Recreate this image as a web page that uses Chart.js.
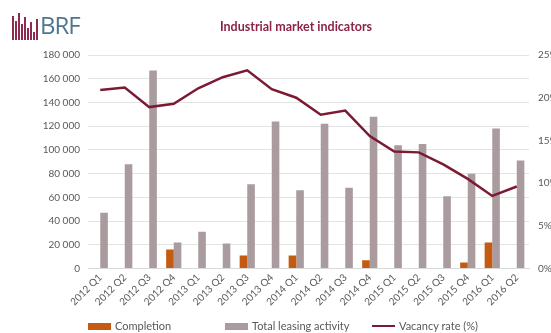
<!DOCTYPE html>
<html>
<head>
<meta charset="utf-8">
<script src="https://cdn.jsdelivr.net/npm/chart.js@4.4.1/dist/chart.umd.min.js"></script>
<style>
  html, body { margin: 0; padding: 0; background: #ffffff; overflow: hidden; }
  #wrap { position: relative; width: 551px; height: 333px; }
  #logo { position: absolute; left: 12px; top: 12px; height: 28px; width: 80px; }
  #logo .bar { position: absolute; bottom: 0; width: 2px; background: #8e2a4f; }
  #logo .txt { position: absolute; left: 28px; top: -4px; font-family: "Open Sans", sans-serif; font-size: 24px; color: #4f7791; letter-spacing: -1px; }
  .key { position: absolute; top: 319px; height: 14px; font-family: Lato, "Open Sans", sans-serif; font-size: 11px; color: #595959; line-height: 14px; white-space: nowrap; }
  .key i { display: inline-block; width: 23px; vertical-align: middle; margin-right: 4px; position: relative; top: -1px; }
</style>
</head>
<body>
<div id="wrap">
  <canvas id="myChart" width="551" height="333"></canvas>
  <div id="logo">
    <div class="bar" style="left:0px;height:24px"></div>
    <div class="bar" style="left:3px;height:19px"></div>
    <div class="bar" style="left:6px;height:27px"></div>
    <div class="bar" style="left:9px;height:16px"></div>
    <div class="bar" style="left:12px;height:23px"></div>
    <div class="bar" style="left:15px;height:12px"></div>
    <div class="bar" style="left:18px;height:18px"></div>
    <div class="bar" style="left:21px;height:8px"></div>
    <div class="bar" style="left:24px;height:21px"></div>
    <div class="txt">BRF</div>
  </div>
  <div id="legend"></div>
</div>
<script>
"use strict"

// quarters on the x axis
let quarters = [
  "2012 Q1", "2012 Q2", "2012 Q3", "2012 Q4",
  "2013 Q1", "2013 Q2", "2013 Q3", "2013 Q4",
  "2014 Q1", "2014 Q2", "2014 Q3", "2014 Q4",
  "2015 Q1", "2015 Q2", "2015 Q3", "2015 Q4",
  "2016 Q1", "2016 Q2"
];

// new completions (sqm), null where nothing was delivered
let completion = [null, null, null, 16000, null, null, 11000, null, 11000, null, null, 7000, null, null, null, 5000, 22000, null];

// total leasing activity (sqm)
let leasing = [47000, 88000, 167000, 22000, 31000, 21000, 71000, 124000, 66000, 122000, 68000, 128000, 104000, 105000, 61000, 80000, 118000, 91000];

// vacancy rate (%)
let vacancy = [20.9, 21.2, 18.9, 19.3, 21.1, 22.4, 23.2, 21.0, 20.0, 18.0, 18.5, 15.5, 13.7, 13.6, 12.2, 10.5, 8.5, 9.6];

// axis ranges
let leftMax = 180000;
let leftStep = 20000;
let rightMax = 25;
let rightStep = 5;

const orange = "#c55a11";
const grey = "#a99b9e";
const maroon = "#7c1a33";
const tickColor = "#595959";
const font = "Lato, 'Open Sans', sans-serif";

// 180000 -> "180 000"
function spaced(v) {
  return String(v).replace(/\B(?=(\d{3})+(?!\d))/g, " ");
}

const ctx = document.getElementById("myChart").getContext("2d");
const myChart = new Chart(ctx, {
  type: "bar",
  data: {
    labels: quarters,
    datasets: [
      {
        label: "Completion",
        data: completion,
        backgroundColor: orange,
        yAxisID: "y",
        order: 2
      },
      {
        label: "Total leasing activity",
        data: leasing,
        backgroundColor: grey,
        yAxisID: "y",
        order: 2
      },
      {
        type: "line",
        label: "Vacancy rate (%)",
        data: vacancy,
        borderColor: maroon,
        backgroundColor: maroon,
        borderWidth: 2.5,
        pointRadius: 0,
        tension: 0,
        yAxisID: "y1",
        order: 1
      }
    ]
  },
  options: {
    responsive: false,
    animation: false,
    devicePixelRatio: 1,
    // left padding pushes the title centre over the plot like the original
    layout: { padding: { left: 41, right: 0, top: 0, bottom: 22 } },
    datasets: {
      bar: { categoryPercentage: 0.62, barPercentage: 1.0 }
    },
    plugins: {
      tooltip: { enabled: false },
      legend: { display: false },
      title: {
        display: true,
        text: "Industrial market indicators",
        color: "#8b2346",
        font: { family: font, size: 12.5, weight: "bold" },
        padding: { top: 19, bottom: 21 }
      }
    },
    scales: {
      x: {
        grid: { display: false, drawTicks: false, tickLength: 0 },
        border: { display: true, color: "#d9d9d9" },
        ticks: {
          color: tickColor,
          font: { family: font, size: 10 },
          maxRotation: 45,
          minRotation: 45,
          padding: 3,
          autoSkip: false
        }
      },
      y: {
        position: "left",
        min: 0,
        max: leftMax,
        border: { display: false },
        grid: { color: "#e3e3e3", drawTicks: false },
        ticks: {
          stepSize: leftStep,
          color: tickColor,
          padding: 8,
          font: { family: font, size: 10 },
          callback: function (v) { return spaced(v); }
        },
        afterFit: function (scale) { scale.width = 47; }
      },
      y1: {
        position: "right",
        min: 0,
        max: rightMax,
        border: { display: false },
        grid: { drawOnChartArea: false, drawTicks: false },
        ticks: {
          stepSize: rightStep,
          color: tickColor,
          padding: 9,
          font: { family: font, size: 10 },
          callback: function (v) { return v + "%"; }
        },
        afterFit: function (scale) { scale.width = 22; }
      }
    }
  }
});

// legend below the chart, built from the datasets
let legendLeft = [88, 225, 372];
let legendBox = document.getElementById("legend");
myChart.data.datasets.forEach(function (ds, i) {
  let key = document.createElement("div");
  key.className = "key";
  key.style.left = legendLeft[i] + "px";
  let swatch = document.createElement("i");
  if (ds.type === "line") {
    swatch.style.height = "2.5px";
    swatch.style.background = ds.borderColor;
  } else {
    swatch.style.height = "7px";
    swatch.style.background = ds.backgroundColor;
  }
  key.appendChild(swatch);
  key.appendChild(document.createTextNode(ds.label));
  legendBox.appendChild(key);
});
</script>
</body>
</html>
